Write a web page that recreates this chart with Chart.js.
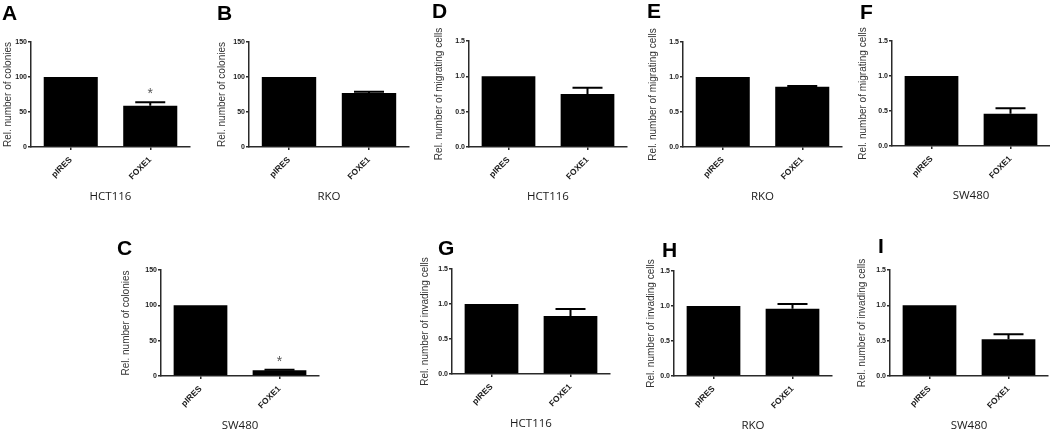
<!DOCTYPE html>
<html><head><meta charset="utf-8">
<script src="https://cdn.jsdelivr.net/npm/chart.js@4/dist/chart.umd.min.js"></script>
<style>
html,body{margin:0;padding:0;background:#fff;width:1050px;height:429px;overflow:hidden;position:relative}
canvas{position:absolute}
.lbl{position:absolute;font:bold 21px "Liberation Sans",Arial,sans-serif;line-height:21px;color:#000;white-space:nowrap;z-index:2}
</style></head><body>
<script>
// ---------- DATA ----------
const categories = ['pIRES', 'FOXE1'];
const colonyTicks = [0, 50, 100, 150];
const cellTicks = [0, 0.5, 1.0, 1.5];

const hct116Colonies = [100, 59];
const hct116ColoniesErr = [0, 5];
const hct116ColoniesSig = [false, true];

const rkoColonies = [100, 77];
const rkoColoniesErr = [0, 2];

const sw480Colonies = [100, 8];
const sw480ColoniesErr = [0, 1];
const sw480ColoniesSig = [false, true];

const hct116Migrating = [1.0, 0.75];
const hct116MigratingErr = [0, 0.09];

const rkoMigrating = [1.0, 0.86];
const rkoMigratingErr = [0, 0.01];

const sw480Migrating = [1.0, 0.46];
const sw480MigratingErr = [0, 0.08];

const hct116Invading = [1.0, 0.83];
const hct116InvadingErr = [0, 0.10];

const rkoInvading = [1.0, 0.96];
const rkoInvadingErr = [0, 0.07];

const sw480Invading = [1.0, 0.52];
const sw480InvadingErr = [0, 0.07];

const noSig = [false, false];

// ---------- PANELS (layout kept separate) ----------
const colTitle = 'Rel. number of colonies';
const migTitle = 'Rel. number of migrating cells';
const invTitle = 'Rel. number of invading cells';

const panels = [
  {letter:'A', lx:2,   ly:5,   values:hct116Colonies, errs:hct116ColoniesErr, sig:hct116ColoniesSig, yTitle:colTitle, cell:'HCT116', ticks:colonyTicks, max:150, dec:0, ax:31,  top:42,  zero:147,   right:190,  yw:29.5},
  {letter:'B', lx:217, ly:5,   values:rkoColonies,    errs:rkoColoniesErr,    sig:noSig,             yTitle:colTitle, cell:'RKO',    ticks:colonyTicks, max:150, dec:0, ax:249, top:42,  zero:147,   right:409,  yw:33},
  {letter:'D', lx:432, ly:3,   values:hct116Migrating,errs:hct116MigratingErr,sig:noSig,             yTitle:migTitle, cell:'HCT116', ticks:cellTicks,   max:1.5, dec:1, ax:469, top:41,  zero:147,   right:627,  yw:36},
  {letter:'E', lx:647, ly:3,   values:rkoMigrating,   errs:rkoMigratingErr,   sig:noSig,             yTitle:migTitle, cell:'RKO',    ticks:cellTicks,   max:1.5, dec:1, ax:683, top:42,  zero:147,   right:842,  yw:36},
  {letter:'F', lx:860, ly:4,   values:sw480Migrating, errs:sw480MigratingErr, sig:noSig,             yTitle:migTitle, cell:'SW480',  ticks:cellTicks,   max:1.5, dec:1, ax:892, top:41,  zero:146,   right:1050, yw:35},
  {letter:'C', lx:117, ly:240, values:sw480Colonies,  errs:sw480ColoniesErr,  sig:sw480ColoniesSig,  yTitle:colTitle, cell:'SW480',  ticks:colonyTicks, max:150, dec:0, ax:161, top:270, zero:376,   right:319,  yw:41},
  {letter:'G', lx:438, ly:240, values:hct116Invading, errs:hct116InvadingErr, sig:noSig,             yTitle:invTitle, cell:'HCT116', ticks:cellTicks,   max:1.5, dec:1, ax:452, top:269, zero:374,   right:610,  yw:33},
  {letter:'H', lx:662, ly:242, values:rkoInvading,    errs:rkoInvadingErr,    sig:noSig,             yTitle:invTitle, cell:'RKO',    ticks:cellTicks,   max:1.5, dec:1, ax:674, top:271, zero:376,   right:832,  yw:29},
  {letter:'I', lx:878, ly:238, values:sw480Invading,  errs:sw480InvadingErr,  sig:noSig,             yTitle:invTitle, cell:'SW480',  ticks:cellTicks,   max:1.5, dec:1, ax:890, top:270, zero:376,   right:1048, yw:34}
];

const PT = 30, PR = 6, XH = 57;
const AXIS_COLOR = '#2a2a2a';

const errPlugin = {
  id: 'errbars',
  afterDatasetsDraw(chart) {
    const ctx = chart.ctx;
    const y = chart.scales.y;
    const ds = chart.data.datasets[0];
    const meta = chart.getDatasetMeta(0);
    meta.data.forEach((bar, i) => {
      const e = ds.errors[i];
      const yt = y.getPixelForValue(ds.data[i] + e);
      ctx.save();
      if (e > 0) {
        ctx.strokeStyle = '#000';
        ctx.lineWidth = 2;
        ctx.beginPath();
        ctx.moveTo(bar.x, bar.y);
        ctx.lineTo(bar.x, yt);
        ctx.moveTo(bar.x - 15, yt);
        ctx.lineTo(bar.x + 15, yt);
        ctx.stroke();
      }
      if (ds.sig[i]) {
        ctx.fillStyle = '#555';
        ctx.font = '14px "Liberation Sans", Arial, sans-serif';
        ctx.textAlign = 'center';
        ctx.textBaseline = 'alphabetic';
        ctx.fillText('*', bar.x, yt - 4);
      }
      ctx.restore();
    });
  }
};

panels.forEach(p => {
  const lbl = document.createElement('div');
  lbl.className = 'lbl';
  lbl.textContent = p.letter;
  lbl.style.left = p.lx + 'px';
  lbl.style.top = (p.ly - 3) + 'px';
  document.body.appendChild(lbl);

  const cv = document.createElement('canvas');
  const left = Math.round(p.ax - p.yw);
  const yw = p.ax - left;
  const top = Math.round(p.top - PT);
  const pt = p.top - top;
  const w = Math.round(yw + (p.right - p.ax) + PR);
  const h = Math.round(pt + (p.zero - p.top) + XH);
  cv.width = w; cv.height = h;
  cv.style.left = left + 'px';
  cv.style.top = top + 'px';
  cv.style.width = w + 'px';
  cv.style.height = h + 'px';
  document.body.appendChild(cv);

  new Chart(cv, {
    type: 'bar',
    data: {
      labels: categories,
      datasets: [{
        data: p.values,
        errors: p.errs,
        sig: p.sig,
        backgroundColor: '#000',
        borderWidth: 0,
        barPercentage: 0.68,
        categoryPercentage: 1.0
      }]
    },
    options: {
      responsive: false,
      animation: false,
      devicePixelRatio: 1,
      layout: { padding: { top: pt, right: PR, left: 0, bottom: 0 } },
      plugins: { legend: { display: false }, tooltip: { enabled: false }, title: { display: false } },
      scales: {
        x: {
          type: 'category',
          offset: true,
          grid: { display: true, offset: false, drawOnChartArea: false, drawTicks: true, tickLength: 3, color: AXIS_COLOR, lineWidth: 1.5 },
          border: { display: true, color: AXIS_COLOR, width: 1.5 },
          ticks: { autoSkip: false, minRotation: 45, maxRotation: 45, padding: 5, color: '#1a1a1a',
                   font: { family: '"Liberation Sans", Arial, sans-serif', size: 8.5, weight: 'bold' } },
          title: { display: true, text: p.cell, color: '#1a1a1a', padding: 0,
                   font: { family: '"Open Sans", sans-serif', size: 11.5, weight: 'normal' } },
          afterFit: s => { s.height = XH; }
        },
        y: {
          min: 0, max: p.max,
          afterBuildTicks: s => { s.ticks = p.ticks.map(v => ({ value: v })); },
          grid: { display: true, drawOnChartArea: false, drawTicks: true, tickLength: 3, color: AXIS_COLOR, lineWidth: 1.5 },
          border: { display: true, color: AXIS_COLOR, width: 1.5 },
          ticks: { padding: 1, color: '#1a1a1a',
                   font: { family: '"Liberation Sans", Arial, sans-serif', size: 7, weight: 'bold' },
                   callback: v => Number(v).toFixed(p.dec) },
          title: { display: true, text: p.yTitle, color: '#333', padding: 0,
                   font: { family: '"Liberation Sans", Arial, sans-serif', size: 10, weight: 'normal' } },
          afterFit: s => { s.width = yw; }
        }
      }
    },
    plugins: [errPlugin]
  });
});
</script>
</body></html>
